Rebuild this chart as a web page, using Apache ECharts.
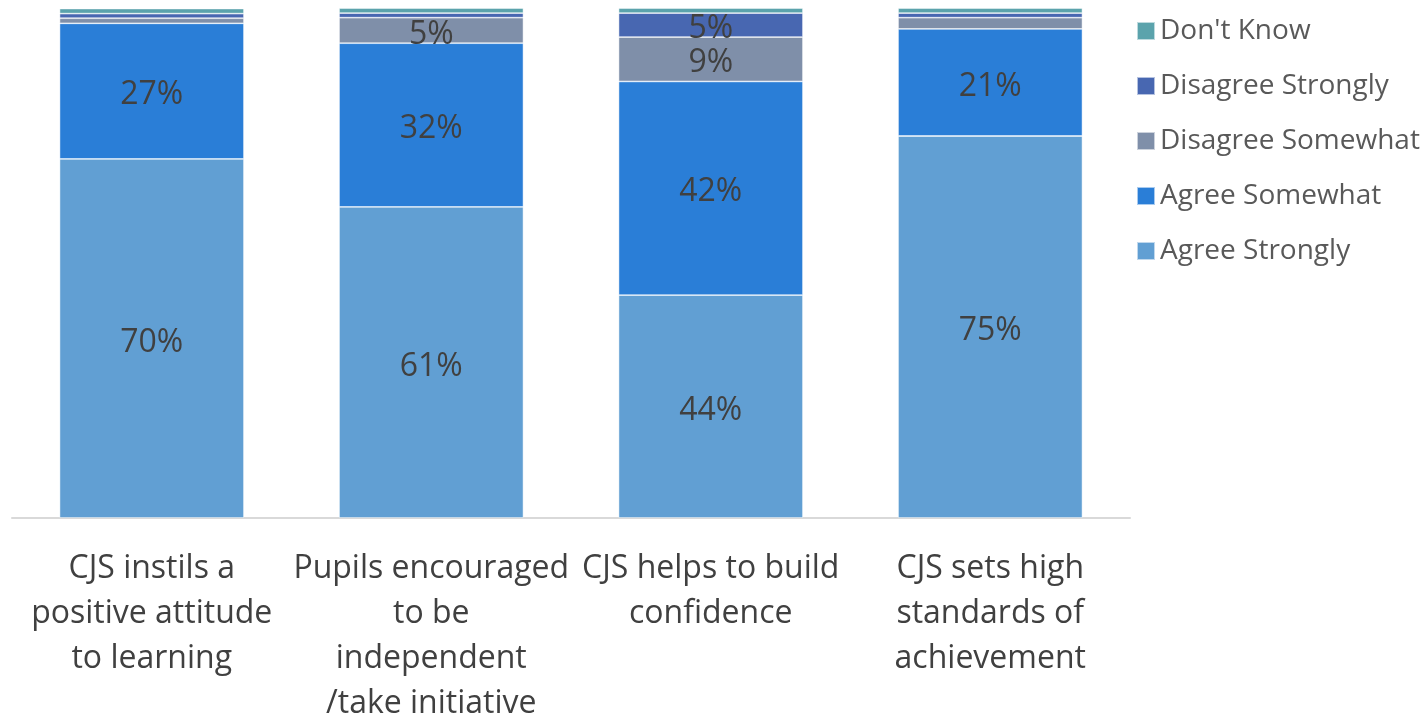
<!DOCTYPE html>
<html><head><meta charset="utf-8">
<script src="https://cdn.jsdelivr.net/npm/echarts@6/dist/echarts.min.js"></script>
<style>html,body{margin:0;padding:0;background:#fff}#c{width:1427px;height:721px}</style>
</head><body><div id="c"></div>
<script>
const categories = [
  "CJS instils a\npositive attitude\nto learning",
  "Pupils encouraged\nto be\nindependent\n/take initiative",
  "CJS helps to build\nconfidence",
  "CJS sets high\nstandards of\nachievement"
];
const agreeStrongly = [70.4, 61.0, 43.7, 74.9];
const agreeSomewhat = [26.6, 32.1, 41.9, 21.0];
const disagreeSomewhat = [1.0, 5.0, 8.7, 2.2];
const disagreeStrongly = [0.9, 0.9, 4.7, 0.9];
const dontKnow = [1.0, 1.0, 1.0, 1.0];

const seriesDefs = [
  {name: "Agree Strongly", data: agreeStrongly, color: "#619fd3"},
  {name: "Agree Somewhat", data: agreeSomewhat, color: "#2a7ed7"},
  {name: "Disagree Somewhat", data: disagreeSomewhat, color: "#7f8fa9"},
  {name: "Disagree Strongly", data: disagreeStrongly, color: "#4867b1"},
  {name: "Don't Know", data: dontKnow, color: "#5ba3ac"}
];
const FONT = "'Open Sans', sans-serif";
const chart = echarts.init(document.getElementById('c'));
chart.setOption({
  animation: false,
  textStyle: {fontFamily: FONT},
  grid: {left: 12, right: 297, top: 8, height: 510, containLabel: false, outerBoundsMode: 'none'},
  legend: {
    orient: 'vertical', left: 1131, top: 10,
    itemWidth: 18, itemHeight: 18, itemGap: 23,
    icon: 'rect',
    data: ["Don't Know", "Disagree Strongly", "Disagree Somewhat", "Agree Somewhat", "Agree Strongly"],
    textStyle: {fontSize: 28, color: '#595959', fontFamily: FONT, lineHeight: 32, padding: [0,0,0,0]}
  },
  xAxis: {
    type: 'category', data: categories,
    axisLine: {lineStyle: {color: '#d9d9d9', width: 2}},
    axisTick: {show: false},
    axisLabel: {fontSize: 32, color: '#404040', lineHeight: 45, margin: 28, interval: 0, fontFamily: FONT}
  },
  yAxis: {type: 'value', min: 0, max: 100, show: false, splitLine: {show: false}},
  series: seriesDefs.map(s => ({
    name: s.name, type: 'bar', stack: 'total', barWidth: '66%',
    data: s.data,
    itemStyle: {color: s.color, borderColor: 'rgba(255,255,255,0.6)', borderWidth: 0.8},
    label: {
      show: true, position: 'inside', offset: [0, 4], fontSize: 32, color: '#404040', fontFamily: FONT,
      formatter: p => p.value >= 4 ? Math.round(p.value) + '%' : ''
    }
  }))
});
</script></body></html>
